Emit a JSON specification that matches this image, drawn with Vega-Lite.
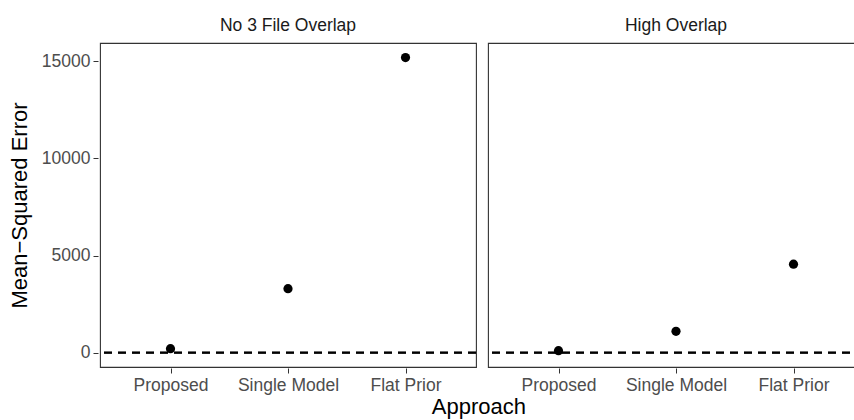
{
  "$schema": "https://vega.github.io/schema/vega-lite/v6.json",
  "background": "white",
  "padding": {"left": 8, "top": 16, "right": 0, "bottom": 5},
  "title": {
    "text": "Approach",
    "orient": "bottom",
    "anchor": "middle",
    "dx": 42,
    "offset": 3,
    "font": "Liberation Sans",
    "fontSize": 22,
    "fontWeight": "normal",
    "color": "black"
  },
  "data": {
    "values": [
      {"scenario": "No 3 File Overlap", "approach": "Proposed", "mse": 205},
      {"scenario": "No 3 File Overlap", "approach": "Single Model", "mse": 3290},
      {"scenario": "No 3 File Overlap", "approach": "Flat Prior", "mse": 15190},
      {"scenario": "High Overlap", "approach": "Proposed", "mse": 100},
      {"scenario": "High Overlap", "approach": "Single Model", "mse": 1095},
      {"scenario": "High Overlap", "approach": "Flat Prior", "mse": 4555}
    ]
  },
  "facet": {
    "column": {
      "field": "scenario",
      "type": "nominal",
      "sort": ["No 3 File Overlap", "High Overlap"],
      "title": null
    }
  },
  "spacing": 8,
  "spec": {
    "width": 376,
    "height": 324,
    "layer": [
      {
        "mark": {"type": "rule", "color": "black", "strokeWidth": 1.6, "strokeDash": [8, 6]},
        "encoding": {
          "y": {"datum": 0, "type": "quantitative", "title": "Mean−Squared Error"}
        }
      },
      {
        "mark": {"type": "point", "filled": true, "color": "black", "opacity": 1, "size": 85},
        "encoding": {
          "x": {
            "field": "approach",
            "type": "nominal",
            "sort": ["Proposed", "Single Model", "Flat Prior"],
            "scale": {"type": "point", "padding": 0.6},
            "title": null
          },
          "y": {
            "field": "mse",
            "type": "quantitative",
            "title": "Mean−Squared Error",
            "scale": {"domain": [-740, 15940], "nice": false, "zero": false},
            "axis": {"values": [0, 5000, 10000, 15000], "format": "d"}
          }
        }
      }
    ]
  },
  "config": {
    "view": {"stroke": "#333333", "strokeWidth": 1.1},
    "axis": {
      "grid": false,
      "domain": false,
      "tickColor": "#333333",
      "tickSize": 5,
      "labelColor": "#4d4d4d",
      "labelFont": "Liberation Sans",
      "labelFontSize": 17.5,
      "titleFont": "Liberation Sans",
      "titleFontSize": 22,
      "titleColor": "black",
      "titleFontWeight": "normal"
    },
    "axisX": {"labelPadding": 3, "labelAngle": 0},
    "axisY": {"labelPadding": 3, "titlePadding": 10},
    "header": {
      "labelFont": "Liberation Sans",
      "labelFontSize": 17.5,
      "labelColor": "#1a1a1a",
      "labelPadding": 8,
      "titleFont": "Liberation Sans",
      "titleFontSize": 22,
      "titleFontWeight": "normal",
      "titleColor": "black"
    }
  }
}
